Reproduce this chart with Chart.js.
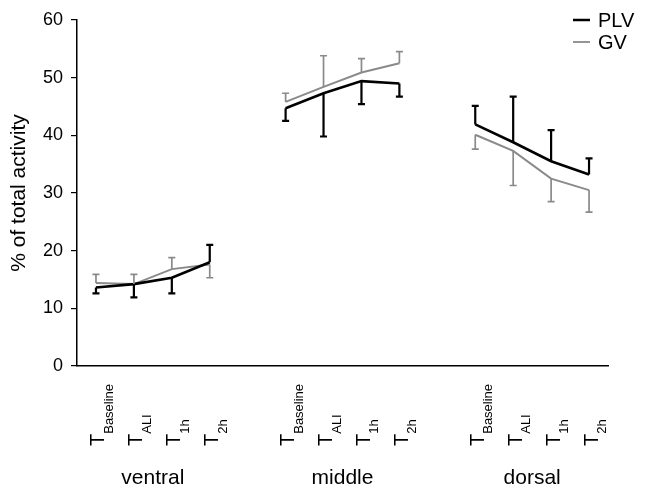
<!DOCTYPE html>
<html>
<head>
<meta charset="utf-8">
<script src="https://cdn.jsdelivr.net/npm/chart.js@4.4.1/dist/chart.umd.min.js"></script>
<style>
  body { margin: 0; background: #fff; }
  canvas { display: block; }
</style>
</head>
<body>
<canvas id="c" width="645" height="490"></canvas>
<script>
// x positions of the 12 time points (gaps at 4 and 9 split the regions)
const positions = [0, 1, 2, 3, 5, 6, 7, 8, 10, 11, 12, 13];
const timeLabels = ['Baseline', 'ALI', '1h', '2h'];
const regions = ['ventral', 'middle', 'dorsal'];
const regionCenters = [1.5, 6.5, 11.5];
const gapPositions = [4, 9];

// means and the tip of each one-sided error bar
const plvMean = [13.6, 14.2, 15.3, 18.0, 44.7, 47.3, 49.4, 49.0, 41.9, 38.8, 35.5, 33.2];
const plvErrTip = [12.6, 11.9, 12.6, 21.0, 42.5, 39.8, 45.4, 46.7, 45.1, 46.7, 40.9, 36.0];
const gvMean = [14.4, 14.2, 16.8, 17.6, 45.8, 48.4, 50.9, 52.5, 40.1, 37.3, 32.5, 30.5];
const gvErrTip = [15.9, 15.9, 18.8, 15.3, 47.3, 53.8, 53.3, 54.5, 37.6, 31.3, 28.5, 26.7];

const yTicks = [0, 10, 20, 30, 40, 50, 60];

const FONT = '"Liberation Sans", Arial, sans-serif';
const PLV_COLOR = '#000000';
const GV_COLOR = '#8a8a8a';

Chart.defaults.font.family = FONT;
Chart.defaults.color = '#000';

// punkte mit null in den luecken, damit die linie unterbrochen wird
function toPoints(values) {
    const pts = values.map((v, i) => ({ x: positions[i], y: v }));
    gapPositions.forEach(g => pts.push({ x: g, y: null }));
    return pts.sort((a, b) => a.x - b.x);
}

const series = [
    { mean: plvMean, tip: plvErrTip, color: PLV_COLOR, width: 2.2 },
    { mean: gvMean, tip: gvErrTip, color: GV_COLOR, width: 1.7 }
];

const extras = {
    id: 'extras',
    afterDatasetsDraw(chart) {
        const ctx = chart.ctx;
        const xs = chart.scales.x, ys = chart.scales.y;
        ctx.save();
        // error bars, gray first so black stays on top
        [...series].reverse().forEach(s => {
            ctx.strokeStyle = s.color;
            ctx.lineWidth = s.width;
            s.mean.forEach((m, i) => {
                const x = xs.getPixelForValue(positions[i]);
                const y1 = ys.getPixelForValue(m);
                const y2 = ys.getPixelForValue(s.tip[i]);
                ctx.beginPath();
                ctx.moveTo(x, y1);
                ctx.lineTo(x, y2);
                ctx.moveTo(x - 3.5, y2);
                ctx.lineTo(x + 3.5, y2);
                ctx.stroke();
            });
        });
        ctx.restore();
    },
    afterDraw(chart) {
        const ctx = chart.ctx;
        const xs = chart.scales.x;
        ctx.save();
        ctx.fillStyle = '#000';

        // T with subscripts, rotated
        positions.forEach((p, i) => {
            const x = xs.getPixelForValue(p);
            ctx.save();
            ctx.translate(x, 446);
            ctx.rotate(-Math.PI / 2);
            ctx.textAlign = 'left';
            ctx.textBaseline = 'alphabetic';
            ctx.font = '20px ' + FONT;
            ctx.fillText('T', 0, 8.5);
            const w = ctx.measureText('T').width;
            ctx.font = '13px ' + FONT;
            ctx.fillText(timeLabels[i % 4], w, 17);
            ctx.restore();
        });

        // region names
        ctx.font = '21px ' + FONT;
        ctx.textAlign = 'center';
        ctx.textBaseline = 'alphabetic';
        regions.forEach((r, i) => {
            ctx.fillText(r, xs.getPixelForValue(regionCenters[i]), 484);
        });

        // y title
        ctx.save();
        ctx.translate(19, (chart.chartArea.top + chart.chartArea.bottom) / 2);
        ctx.rotate(-Math.PI / 2);
        ctx.textBaseline = 'middle';
        ctx.font = '21px ' + FONT;
        ctx.fillText('% of total activity', 0, 0);
        ctx.restore();

        // legend
        ctx.textAlign = 'left';
        ctx.textBaseline = 'middle';
        ctx.font = '20px ' + FONT;
        [['PLV', PLV_COLOR, 2.5, 20], ['GV', GV_COLOR, 1.8, 42]].forEach(([name, col, lw, y]) => {
            ctx.strokeStyle = col;
            ctx.lineWidth = lw;
            ctx.beginPath();
            ctx.moveTo(573, y);
            ctx.lineTo(590, y);
            ctx.stroke();
            ctx.fillStyle = '#000';
            ctx.fillText(name, 598, y + 1);
        });
        ctx.restore();
    }
};

new Chart(document.getElementById('c'), {
    type: 'line',
    data: {
        datasets: [
            { label: 'PLV', data: toPoints(plvMean), borderColor: PLV_COLOR, borderWidth: 2.6, pointRadius: 0, spanGaps: false, tension: 0 },
            { label: 'GV', data: toPoints(gvMean), borderColor: GV_COLOR, borderWidth: 2, pointRadius: 0, spanGaps: false, tension: 0 }
        ]
    },
    options: {
        responsive: false,
        animation: false,
        layout: { padding: { left: 0, top: 20, right: 37, bottom: 0 } },
        plugins: { legend: { display: false }, tooltip: { enabled: false } },
        scales: {
            x: {
                type: 'linear',
                min: -0.5,
                max: 13.5,
                ticks: { display: false },
                grid: { display: false },
                border: { display: true, color: '#000', width: 1.5 },
                afterFit(scale) { scale.height = 124; }
            },
            y: {
                min: 0,
                max: 60,
                afterBuildTicks(scale) { scale.ticks = yTicks.map(v => ({ value: v })); },
                ticks: { font: { size: 18 }, color: '#000', padding: 8 },
                grid: { drawOnChartArea: false, drawTicks: true, tickLength: 6, color: '#000', lineWidth: 1.2 },
                border: { display: true, color: '#000', width: 1.5 },
                afterFit(scale) { scale.width = 77; }
            }
        }
    },
    plugins: [extras]
});
</script>
</body>
</html>
